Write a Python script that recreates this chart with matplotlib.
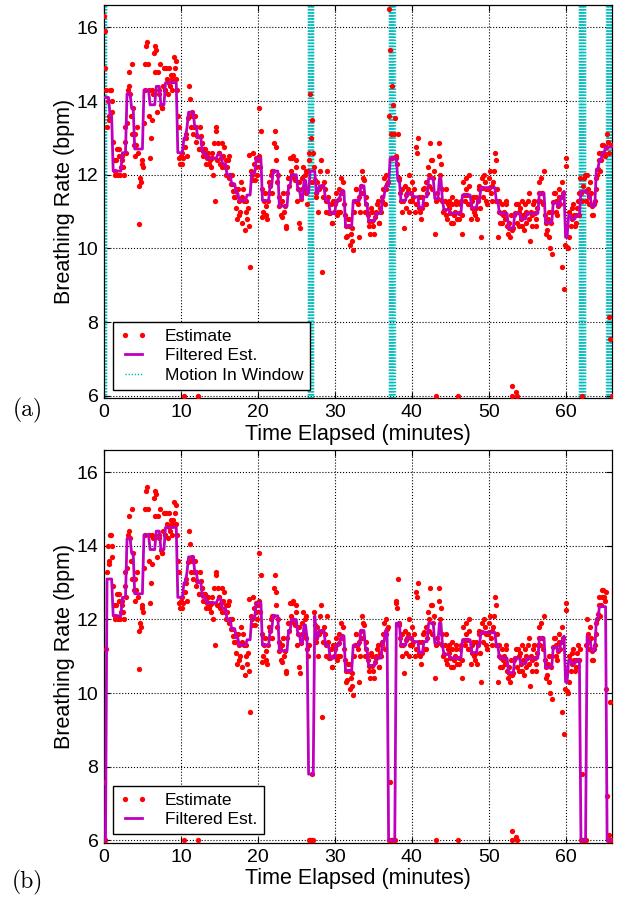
import numpy as np
import matplotlib.pyplot as plt
from matplotlib.lines import Line2D

plt.rcParams['font.family'] = ['Liberation Sans', 'DejaVu Sans']

dt = 0.2  # minutes between estimates

# breathing rate estimates (bpm) at t = 0, 0.2, 0.4, ... (panel a)
est = [
    16.3, 15.9, 13.3, 13.5, 14.3, 14.0, 12.9, 12.0, 12.4, 12.0,
    12.7, 12.2, 12.5, 12.0, 12.9, 13.4, 14.4, 14.2, 15.0, 13.8,
    13.1, 12.8, 12.6, 10.65, 11.8, 12.3, 13.4, 15.0, 15.6, 14.3,
    12.45, 13.5, 14.2, 15.5, 15.4, 14.8, 14.3, 13.9, 13.8, 14.9,
    14.3, 14.6, 14.9, 14.4, 14.3, 14.7, 14.9, 15.1, 13.6, 12.45,
    12.5, 12.3, 6.0, 13.1, 12.5, 14.4, 14.05, 13.6, 13.1, 13.6,
    13.3, 6.0, 12.7, 13.05, 12.85, 12.7, 12.5, 12.45, 12.3, 12.4,
    12.45, 12.0, 11.3, 13.3, 12.85, 12.6, 12.45, 12.2, 12.75, 12.4,
    12.2, 12.5, 12.0, 11.75, 11.55, 11.4, 11.1, 11.6, 10.9, 11.8,
    10.7, 11.3, 11.0, 10.8, 12.55, 9.5, 12.0, 12.6, 11.85, 12.2,
    12.4, 13.8, 13.2, 10.85, 11.3, 11.15, 10.8, 11.5, 11.7, 12.1,
    12.1, 13.2, 12.75, 12.0, 11.15, 10.9, 11.3, 11.0, 10.6, 11.5,
    11.7, 12.45, 12.0, 12.5, 11.85, 12.4, 11.6, 10.7, 11.35, 11.9,
    11.6, 12.1, 11.2, 12.4, 14.2, 13.5, 12.6, 11.85, 11.5, 11.0,
    11.65, 12.4, 9.35, 11.8, 11.3, 12.1, 11.0, 10.95, 10.7, 11.3,
    11.2, 11.5, 11.0, 11.35, 11.9, 11.5, 11.2, 10.6, 10.35, 10.8,
    10.1, 10.55, 9.95, 11.3, 11.6, 11.2, 10.3, 11.7, 12.1, 11.85,
    11.2, 11.0, 10.75, 10.4, 11.0, 10.6, 10.85, 10.95, 11.3, 10.7,
    11.0, 11.4, 11.9, 11.6, 11.75, 16.5, 15.4, 14.4, 13.9, 13.55,
    12.45, 13.1, 11.85, 11.3, 11.6, 10.55, 11.1, 11.5, 12.0, 11.3,
    11.8, 11.4, 11.0, 12.75, 13.0, 11.1, 10.8, 11.4, 11.65, 11.2,
    11.5, 12.0, 12.85, 12.4, 11.9, 10.4, 6.0, 11.35, 12.85, 12.3,
    11.3, 11.05, 11.6, 10.8, 11.3, 10.95, 11.4, 10.7, 11.0, 11.2,
    6.0, 10.95, 11.3, 10.4, 11.45, 11.9, 11.45, 12.0, 11.2, 11.1,
    11.4, 10.9, 11.1, 11.3, 11.7, 10.3, 11.65, 12.0, 11.6, 11.2,
    11.65, 12.1, 11.3, 11.8, 12.6, 12.4, 10.3, 11.3, 10.95, 10.7,
    11.0, 11.3, 10.6, 10.55, 10.3, 6.25, 10.55, 10.95, 6.1, 11.2,
    10.6, 10.8, 11.3, 10.5, 11.0, 10.95, 11.5, 10.2, 10.9, 11.2,
    10.95, 10.6, 11.3, 11.5, 11.9, 11.5, 12.1, 10.7, 10.5, 11.0,
    10.0, 9.85, 11.25, 11.5, 11.0, 11.15, 11.4, 11.4, 9.5, 8.9,
    12.45, 10.05, 10.3, 10.9, 10.8, 11.2, 10.6, 10.9, 11.3, 10.9,
    11.5, 6.0, 11.9, 11.55, 12.0, 11.4, 11.8, 11.15, 10.9, 11.3,
    11.6, 12.15, 12.6, 12.4, 12.8, 12.6, 12.75, 13.1, 8.15, 7.55,
    6.0,
]

# estimates (bpm) at t = 0.1, 0.3, 0.5, ... (panel a)
est2 = [
    14.9, 14.3, 14.0, 13.6, 14.3, 13.7, 12.4, 12.1, 12.7, 12.5,
    12.0, 12.4, 12.2, 13.3, 12.6, 14.3, 14.8, 13.6, 13.1, 12.8,
    12.5, 13.3, 11.7, 11.9, 12.4, 12.2, 14.3, 15.5, 15.0, 13.6,
    13.0, 14.3, 15.3, 14.8, 13.7, 14.2, 15.0, 13.8, 14.4, 14.3,
    14.9, 14.2, 14.5, 14.7, 14.6, 15.2, 14.6, 14.3, 13.3, 12.3,
    12.6, 12.45, 12.75, 13.0, 13.55, 13.6, 13.3, 13.7, 13.3, 12.9,
    13.05, 12.7, 13.3, 12.85, 12.5, 12.7, 12.3, 12.6, 12.45, 12.2,
    12.6, 12.85, 13.2, 12.4, 12.6, 12.3, 12.85, 12.5, 12.2, 12.0,
    12.4, 11.9, 11.75, 12.0, 11.4, 11.6, 10.8, 11.3, 11.0, 11.4,
    11.6, 10.5, 11.3, 11.1, 10.6, 12.1, 11.85, 12.3, 12.45, 12.0,
    12.5, 12.2, 11.6, 11.0, 11.5, 10.9, 11.3, 11.8, 12.0, 11.5,
    12.85, 12.4, 11.8, 11.4, 11.2, 10.85, 11.5, 11.15, 10.55, 11.9,
    11.9, 12.1, 12.45, 11.9, 12.2, 11.3, 11.8, 10.55, 11.6, 12.2,
    12.0, 11.5, 12.1, 12.6, 13.0, 11.8, 12.2, 11.4, 11.8, 11.6,
    12.1, 11.7, 11.4, 11.6, 11.0, 11.4, 10.95, 11.2, 10.7, 11.0,
    11.3, 10.9, 11.6, 11.0, 11.55, 11.8, 10.9, 10.3, 10.8, 10.6,
    10.4, 10.2, 11.0, 11.6, 11.3, 11.4, 11.0, 11.5, 11.9, 11.0,
    11.4, 10.9, 10.6, 11.1, 10.75, 10.4, 11.0, 11.2, 10.7, 11.1,
    11.3, 11.6, 11.2, 12.0, 11.8, 13.6, 13.1, 12.45, 13.1, 12.5,
    12.3, 11.9, 11.5, 11.0, 11.3, 11.7, 11.45, 11.6, 11.0, 11.5,
    11.3, 11.6, 11.2, 12.6, 11.4, 11.0, 11.1, 11.6, 11.2, 11.8,
    12.2, 11.7, 12.4, 11.6, 12.1, 11.3, 11.5, 12.5, 12.0, 11.6,
    11.0, 11.3, 10.9, 11.2, 11.1, 10.7, 11.2, 10.9, 11.3, 10.8,
    10.8, 11.2, 10.9, 11.8, 11.3, 11.6, 11.2, 11.7, 10.8, 11.3,
    11.0, 11.4, 10.8, 11.6, 11.1, 11.9, 11.4, 11.8, 11.3, 11.6,
    11.9, 11.5, 11.7, 12.1, 11.3, 11.6, 11.0, 10.7, 11.2, 10.9,
    10.8, 11.2, 10.4, 10.7, 10.9, 10.5, 10.9, 11.2, 10.7, 11.0,
    11.1, 10.6, 10.9, 11.2, 10.7, 11.3, 10.8, 11.0, 10.6, 11.3,
    10.8, 11.1, 11.8, 11.3, 11.5, 11.2, 10.9, 10.4, 10.8, 10.3,
    10.7, 11.0, 11.5, 11.3, 10.9, 11.6, 11.2, 11.8, 11.5, 10.1,
    12.25, 10.0, 11.0, 10.6, 11.1, 10.9, 10.7, 11.1, 11.5, 11.9,
    11.3, 11.7, 12.0, 11.3, 11.6, 11.2, 11.5, 10.9, 11.2, 11.9,
    12.0, 12.4, 12.1, 12.6, 12.8, 12.5, 12.75, 12.9, 12.6, 12.8,
]

# extra estimates at 6 bpm seen in both panels
ext_t = [53.1, 53.7]
ext_v = [6.0, 6.0]

# motion windows (start, end) in minutes
motion = [(0.0, 0.3), (26.5, 27.2), (37.0, 37.8), (61.7, 62.6), (65.3, 66.0)]

# panel (b): estimates inside the motion windows, in time order
est_b_win = [7.6, 6.0,
             11.3, 6.0, 7.8, 6.0,
             6.0, 7.6, 6.0, 6.0, 6.0,
             10.9, 6.0, 7.8, 6.0, 6.0,
             7.2, 6.15, 9.75, 6.0]
est2_b_win = [6.0, 11.2,
              11.0, 6.0, 6.0, 6.0,
              6.0, 6.0, 6.0, 6.0,
              10.9, 11.2, 6.0, 6.0, 6.0,
              10.1, 6.0, 6.0, 6.0]

# filtered estimate (panel a): level and how many samples it holds
filt_levels = [
    14.1, 13.6, 12.1, 12.6, 14.2, 13.8, 12.7, 14.3, 13.9, 14.4,
    13.9, 14.5, 12.6, 13.0, 13.3, 13.7, 13.3, 13.0, 12.6, 12.45,
    12.55, 12.3, 12.0, 11.75, 11.5, 11.3, 11.45, 12.05, 12.45, 11.3,
    11.7, 12.1, 11.15, 11.7, 12.0, 11.6, 11.35, 11.85, 11.5, 12.1,
    11.5, 11.7, 11.3, 10.95, 11.3, 11.55, 10.6, 11.3, 11.7, 11.2,
    10.75, 10.95, 11.4, 11.7, 12.45, 11.85, 11.3, 11.5, 11.4, 11.1,
    11.4, 11.9, 11.35, 11.9, 11.3, 11.05, 10.95, 11.45, 11.1, 11.3,
    11.65, 11.3, 10.95, 10.55, 10.95, 10.8, 10.95, 11.5, 10.7, 11.25,
    11.15, 11.4, 11.55, 10.3, 10.9, 10.8, 10.9, 11.55, 11.4, 11.15,
    12.15, 12.4, 12.6, 12.75,
]
filt_runs = [
    4, 2, 6, 3, 3, 2, 6, 4, 4, 3,
    3, 8, 4, 2, 1, 4, 2, 3, 3, 7,
    3, 3, 3, 3, 2, 5, 3, 3, 4, 5,
    2, 4, 6, 2, 4, 2, 2, 2, 2, 4,
    2, 4, 3, 4, 3, 3, 5, 5, 3, 2,
    5, 4, 2, 3, 5, 2, 4, 4, 4, 3,
    3, 4, 3, 2, 1, 4, 8, 6, 4, 2,
    10, 2, 6, 4, 4, 4, 8, 4, 5, 3,
    2, 2, 1, 2, 2, 3, 3, 5, 2, 3,
    2, 2, 2, 5,
]

# panel (b) filtered estimate where it differs from (a): (from, to, level)
filt_b_fix = [(0.0, 0.2, 6.0), (0.4, 1.0, 13.1), (26.6, 27.2, 7.8),
              (37.0, 37.8, 6.0), (38.0, 38.4, 11.9), (62.0, 62.6, 6.0),
              (64.0, 64.2, 12.0), (64.4, 65.2, 12.35), (65.4, 66.0, 6.0)]


def in_windows(times):
    mask = np.zeros(len(times), dtype=bool)
    for a, b in motion:
        mask |= (times >= a - 1e-6) & (times <= b + 1e-6)
    return mask


t = np.arange(len(est)) * dt
t2 = np.arange(len(est2)) * dt + dt / 2
est_a = np.array(est)
est2_a = np.array(est2)
est_b = est_a.copy()
est_b[in_windows(t)] = est_b_win
est2_b = est2_a.copy()
est2_b[in_windows(t2)] = est2_b_win

filt_a = np.repeat(filt_levels, filt_runs)
filt_b = filt_a.copy()
for a, b, v in filt_b_fix:
    filt_b[(t >= a - 1e-6) & (t <= b + 1e-6)] = v

fig = plt.figure(figsize=(6.3, 8.99), dpi=100)
ax_a = fig.add_axes([0.165, 0.557, 0.806, 0.437])
ax_b = fig.add_axes([0.165, 0.0623, 0.806, 0.437])

mot_style = dict(color='c', linewidth=1.0, linestyle=(0, (1.0, 1.2)))
dot = dict(ls='none', marker='o', color='r', ms=3.8, mec='none', zorder=3)


def setup(ax):
    ax.set_xlim(0, 66)
    ax.set_ylim(5.93, 16.6)
    ax.set_xticks(range(0, 61, 10))
    ax.set_yticks(range(6, 17, 2))
    ax.grid(True, color='k', linestyle=':', linewidth=0.8)
    ax.set_axisbelow(True)
    ax.tick_params(direction='in', top=True, right=True, length=4,
                   width=0.8, labelsize=14, pad=4)
    for s in ax.spines.values():
        s.set_linewidth(0.9)
    ax.set_xlabel('Time Elapsed (minutes)', fontsize=15.5, labelpad=2)
    ax.set_ylabel('Breathing Rate (bpm)', fontsize=15.5, labelpad=1)


# (a)
for a, b in motion:
    for x in np.arange(a, b + 0.01, 0.07):
        ax_a.axvline(x, zorder=1, **mot_style)
ax_a.plot(t, est_a, **dot)
ax_a.plot(t2, est2_a, **dot)
ax_a.plot(ext_t, ext_v, **dot)
ax_a.plot(t, filt_a, color='m', lw=2.0, zorder=4)
setup(ax_a)

h_est = Line2D([], [], color='r', marker='o', ls='none', ms=3.8, mec='none')
h_filt = Line2D([], [], color='m', lw=2.0)
h_mot = Line2D([], [], **mot_style)
leg_kw = dict(loc='lower left', numpoints=2, fontsize=12.5, fancybox=False,
              framealpha=1, edgecolor='k', borderaxespad=0.5,
              handlelength=1.6, handletextpad=1.0, labelspacing=0.25,
              borderpad=0.4)
leg = ax_a.legend([h_est, h_filt, h_mot],
                  ['Estimate', 'Filtered Est.', 'Motion In Window'], **leg_kw)
leg.get_frame().set_linewidth(1.0)

# (b)
ax_b.plot(t, est_b, **dot)
ax_b.plot(t2, est2_b, **dot)
ax_b.plot(ext_t, ext_v, **dot)
ax_b.plot(t, filt_b, color='m', lw=2.0, zorder=4)
setup(ax_b)
leg = ax_b.legend([h_est, h_filt], ['Estimate', 'Filtered Est.'], **leg_kw)
leg.get_frame().set_linewidth(1.0)

fig.text(0.044, 1 - 410 / 899, '(a)', family='cmr10', fontsize=17,
         ha='center', va='center')
fig.text(0.044, 1 - 882 / 899, '(b)', family='cmr10', fontsize=17,
         ha='center', va='center')

fig.savefig('out.png', dpi=100)
